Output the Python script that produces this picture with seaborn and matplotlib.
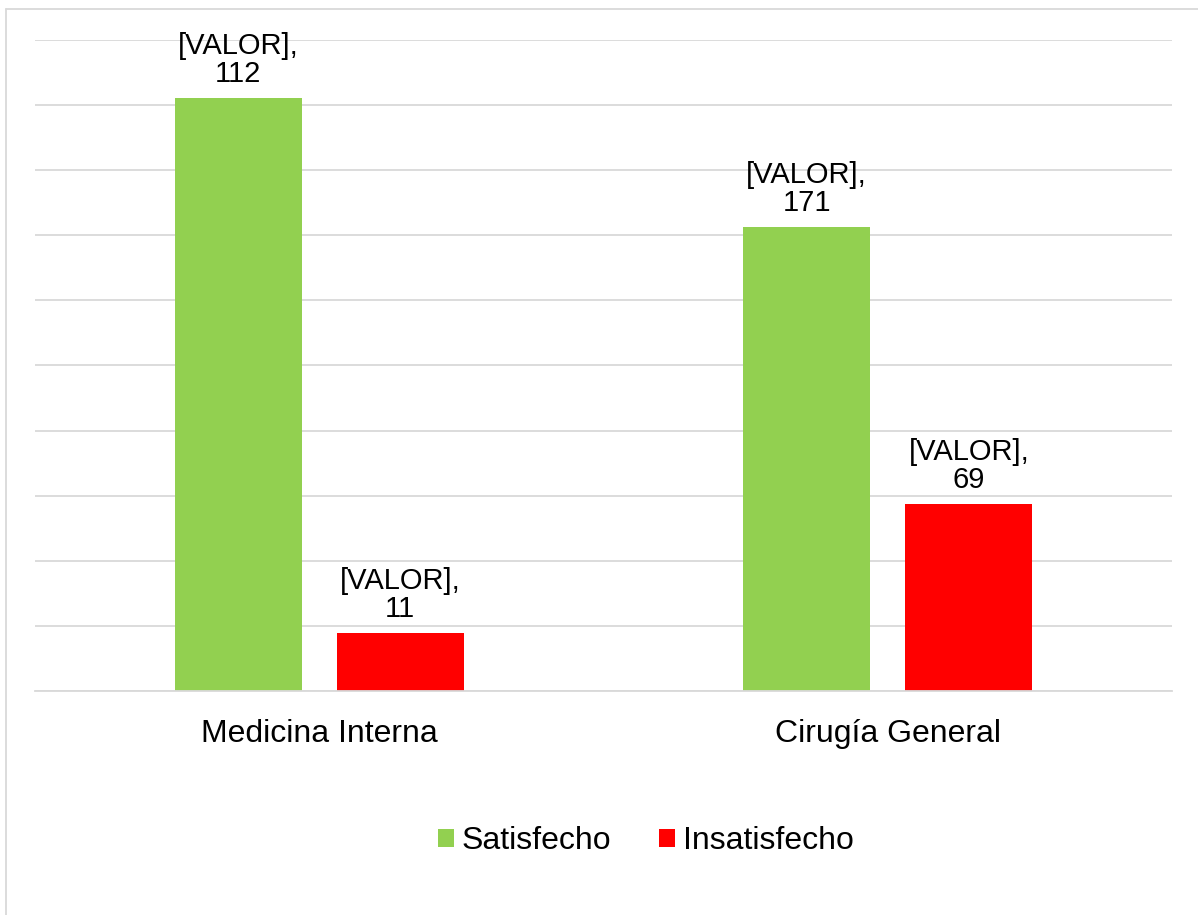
import matplotlib
matplotlib.use("Agg")
import matplotlib.pyplot as plt
import seaborn as sns
import pandas as pd
from matplotlib.patches import Patch

servicios = ["Medicina Interna", "Cirugía General"]
satisfecho = [112, 171]
insatisfecho = [11, 69]
grupos = ["Satisfecho", "Insatisfecho"]
colores = ["#92D050", "#FF0000"]

# percentage of each group within its service, labelled with the raw count
filas = []
for s, a, b in zip(servicios, satisfecho, insatisfecho):
    tot = a + b
    filas.append({"servicio": s, "grupo": "Satisfecho", "n": a, "pct": 100 * a / tot})
    filas.append({"servicio": s, "grupo": "Insatisfecho", "n": b, "pct": 100 * b / tot})
df = pd.DataFrame(filas)

sns.set_theme(style="white")
plt.rcParams["font.family"] = ["Liberation Sans", "DejaVu Sans"]

fig = plt.figure(figsize=(11.98, 9.15), dpi=100)
ax = fig.add_axes([35 / 1198, 1 - 691 / 915, 1137 / 1198, 651 / 915])

sns.barplot(data=df, x="servicio", y="pct", hue="grupo", order=servicios,
            hue_order=grupos, palette=colores, width=0.57, gap=0.217,
            saturation=1, ax=ax, legend=False, linewidth=0)

ax.set_ylim(0, 100)
ax.set_xlim(-0.5, 1.5)
ax.set_yticks(range(0, 101, 10))
ax.yaxis.grid(True, color="#d9d9d9", linewidth=1.3)
ax.set_axisbelow(True)
ax.tick_params(axis="y", left=False, labelleft=False)
ax.tick_params(axis="x", bottom=False, labelsize=23, pad=14, colors="#000000")
ax.set_xlabel("")
ax.set_ylabel("")
for sp in ["top", "right", "left"]:
    ax.spines[sp].set_visible(False)
ax.spines["bottom"].set_color("#d9d9d9")
ax.spines["bottom"].set_linewidth(1.3)

for cont, g in zip(ax.containers, grupos):
    sub = df[df["grupo"] == g].set_index("servicio").loc[servicios]
    etiquetas = [f"[VALOR],\n{n}" for n in sub["n"]]
    ax.bar_label(cont, labels=etiquetas, padding=7, fontsize=21,
                 color="#000000", linespacing=1.0)

handles = [Patch(facecolor=c, edgecolor="none", label=g) for g, c in zip(grupos, colores)]
fig.legend(handles=handles, loc="center", bbox_to_anchor=(646 / 1198, 1 - 841 / 915),
           ncol=2, frameon=False, fontsize=23, handlelength=0.5, handleheight=0.5,
           handletextpad=0.25, columnspacing=1.5, labelcolor="#000000")

# light frame around the chart area
fig.add_artist(plt.Line2D([6 / 1198, 6 / 1198], [0, 1 - 9 / 915],
                          transform=fig.transFigure, color="#d9d9d9", linewidth=1.3))
fig.add_artist(plt.Line2D([6 / 1198, 1], [1 - 9 / 915, 1 - 9 / 915],
                          transform=fig.transFigure, color="#d9d9d9", linewidth=1.3))

fig.savefig("out.png", dpi=100)
